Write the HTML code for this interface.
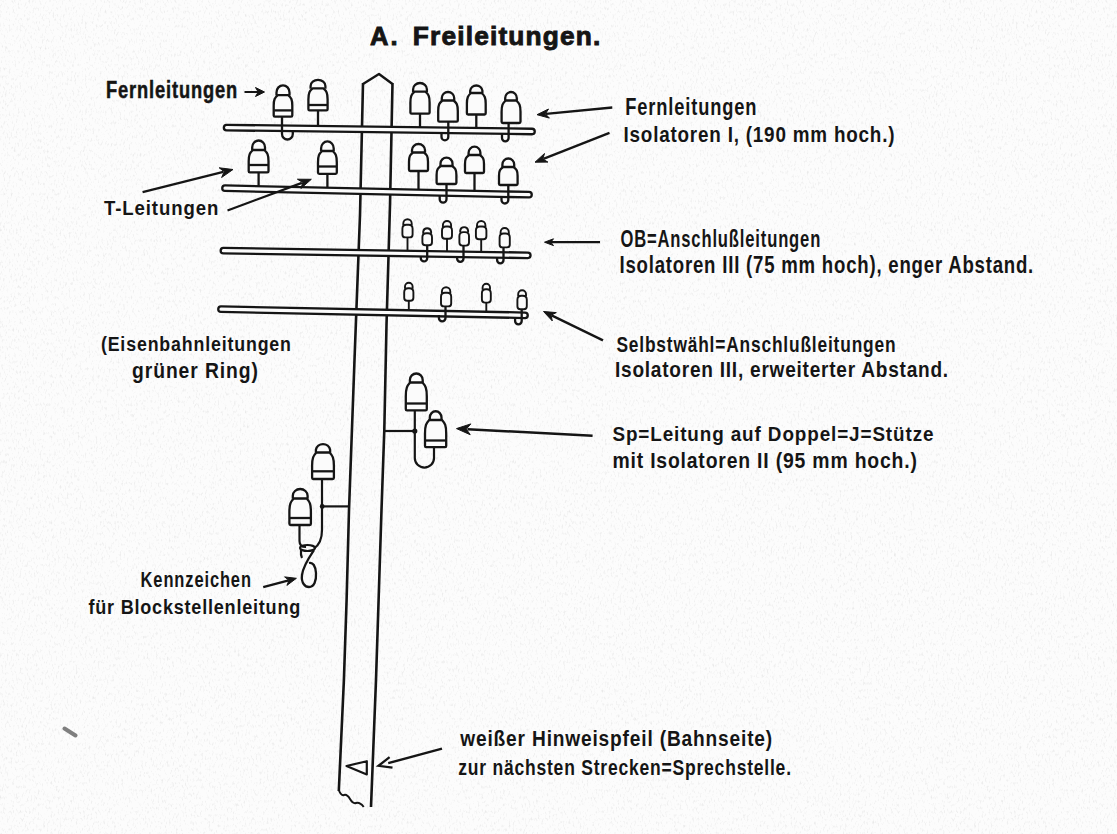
<!DOCTYPE html>
<html><head><meta charset="utf-8"><style>
html,body{margin:0;padding:0;background:#fcfcfc;}
body{width:1117px;height:834px;overflow:hidden;}
svg{display:block;}
text{font-family:"Liberation Sans", sans-serif;fill:#151515;stroke:#151515;}
</style></head><body>
<svg width="1117" height="834" viewBox="0 0 1117 834">
<defs><filter id="grain" x="0" y="0" width="100%" height="100%"><feTurbulence type="fractalNoise" baseFrequency="0.55 0.28" numOctaves="2" seed="7" result="t"/><feColorMatrix in="t" type="matrix" values="0 0 0 0 0.55  0 0 0 0 0.55  0 0 0 0 0.55  3.0 0 0 0 -1.62"/></filter></defs>
<rect width="1117" height="834" fill="#fcfcfc"/>
<rect width="1117" height="834" filter="url(#grain)" opacity="0.3"/>
<polyline points="363,83 360,215 354.5,360 349,510 346.6,600 343.9,680 338.8,791" fill="none" stroke="#151515" stroke-width="2.6"/>
<polyline points="392.5,83 390,205 386.5,325 384.3,430 381.5,510 378.6,600 376,680 371,807" fill="none" stroke="#151515" stroke-width="2.6"/>
<path d="M363 84 L379 74 L392.5 84" fill="none" stroke="#151515" stroke-width="2.4" stroke-linejoin="round"/>
<path d="M338.8 790 Q341 796 344 795 Q347 794 350 799 Q353 804 356 803 Q360 802 363.7 807" fill="none" stroke="#151515" stroke-width="2"/>
<path d="M346.5 766 L366.8 761.2 L366.8 774.5 Z" fill="none" stroke="#151515" stroke-width="2.2" stroke-linejoin="round"/>
<line x1="226.6" y1="127.6" x2="532" y2="131.5" stroke="#151515" stroke-width="7.8" stroke-linecap="round"/>
<line x1="226.6" y1="127.6" x2="532" y2="131.5" stroke="#fbfbfb" stroke-width="3.2" stroke-linecap="round"/>
<line x1="225" y1="188.2" x2="529" y2="194.7" stroke="#151515" stroke-width="7.8" stroke-linecap="round"/>
<line x1="225" y1="188.2" x2="529" y2="194.7" stroke="#fbfbfb" stroke-width="3.2" stroke-linecap="round"/>
<line x1="223.4" y1="250.7" x2="527.8" y2="255.3" stroke="#151515" stroke-width="7.8" stroke-linecap="round"/>
<line x1="223.4" y1="250.7" x2="527.8" y2="255.3" stroke="#fbfbfb" stroke-width="3.2" stroke-linecap="round"/>
<line x1="221" y1="309.2" x2="525" y2="315.3" stroke="#151515" stroke-width="7.8" stroke-linecap="round"/>
<line x1="221" y1="309.2" x2="525" y2="315.3" stroke="#fbfbfb" stroke-width="3.2" stroke-linecap="round"/>
<path d="M276.5 95.4 L276.5 92.4 A6.5 7.1 0 0 1 289.5 92.4 L289.5 95.4" fill="#fbfbfb" stroke="#151515" stroke-width="2.3"/>
<path d="M273.7 115.4 L273.7 105.8 C273.7 99.4 274.8 97.7 277.8 95.1 L288.2 95.1 C291.2 97.7 292.3 99.4 292.3 105.8 L292.3 115.4 Q292.3 116.6 291.1 116.6 L274.9 116.6 Q273.7 116.6 273.7 115.4 Z" fill="#fbfbfb" stroke="#151515" stroke-width="2.3" stroke-linejoin="round"/>
<line x1="274.2" y1="110.4" x2="291.8" y2="110.4" stroke="#151515" stroke-width="2.3"/>
<path d="M282.0 116.6 L282.0 134.1 A5.4 5.4 0 0 0 292.8 134.1 L292.8 131.5" fill="none" stroke="#151515" stroke-width="2.3"/>
<path d="M310.6 88.7 L310.6 86.0 A7.4 6.1 0 0 1 325.4 86.0 L325.4 88.7" fill="#fbfbfb" stroke="#151515" stroke-width="2.3"/>
<path d="M308.4 109.2 L308.4 99.4 C308.4 92.8 309.6 91.0 312.6 88.4 L323.4 88.4 C326.4 91.0 327.6 92.8 327.6 99.4 L327.6 109.2 Q327.6 110.4 326.4 110.4 L309.6 110.4 Q308.4 110.4 308.4 109.2 Z" fill="#fbfbfb" stroke="#151515" stroke-width="2.3" stroke-linejoin="round"/>
<line x1="308.9" y1="105.0" x2="327.1" y2="105.0" stroke="#151515" stroke-width="2.3"/>
<line x1="318.0" y1="110.4" x2="318.0" y2="125.0" stroke="#151515" stroke-width="2.3"/>
<path d="M413.1 91.9 L413.1 89.2 A6.9 6.2 0 0 1 426.9 89.2 L426.9 91.9" fill="#fbfbfb" stroke="#151515" stroke-width="2.3"/>
<path d="M410.4 112.4 L410.4 102.6 C410.4 96.0 411.6 94.2 414.6 91.6 L425.4 91.6 C428.4 94.2 429.6 96.0 429.6 102.6 L429.6 112.4 Q429.6 113.6 428.4 113.6 L411.6 113.6 Q410.4 113.6 410.4 112.4 Z" fill="#fbfbfb" stroke="#151515" stroke-width="2.3" stroke-linejoin="round"/>
<line x1="420.0" y1="113.6" x2="420.0" y2="127.0" stroke="#151515" stroke-width="2.3"/>
<path d="M441.8 100.8 L441.8 98.1 A6.2 6.1 0 0 1 454.2 98.1 L454.2 100.8" fill="#fbfbfb" stroke="#151515" stroke-width="2.3"/>
<path d="M438.2 120.4 L438.2 111.0 C438.2 104.7 439.4 103.0 442.4 100.5 L453.6 100.5 C456.6 103.0 457.8 104.7 457.8 111.0 L457.8 120.4 Q457.8 121.6 456.6 121.6 L439.4 121.6 Q438.2 121.6 438.2 120.4 Z" fill="#fbfbfb" stroke="#151515" stroke-width="2.3" stroke-linejoin="round"/>
<path d="M448.3 121.6 L448.3 136.9 A3.4 3.4 0 0 1 441.5 136.9 L441.5 133.0" fill="none" stroke="#151515" stroke-width="2.3"/>
<path d="M470.2 93.3 L470.2 90.6 A6.2 6.2 0 0 1 482.4 90.6 L482.4 93.3" fill="#fbfbfb" stroke="#151515" stroke-width="2.3"/>
<path d="M466.9 113.3 L466.9 103.8 C466.9 97.3 468.0 95.6 471.0 93.0 L481.6 93.0 C484.6 95.6 485.7 97.3 485.7 103.8 L485.7 113.3 Q485.7 114.5 484.5 114.5 L468.1 114.5 Q466.9 114.5 466.9 113.3 Z" fill="#fbfbfb" stroke="#151515" stroke-width="2.3" stroke-linejoin="round"/>
<line x1="476.3" y1="114.5" x2="476.3" y2="128.5" stroke="#151515" stroke-width="2.3"/>
<path d="M505.2 100.8 L505.2 98.1 A5.8 6.1 0 0 1 516.8 98.1 L516.8 100.8" fill="#fbfbfb" stroke="#151515" stroke-width="2.3"/>
<path d="M501.6 121.8 L501.6 111.8 C501.6 105.0 502.7 103.2 505.7 100.5 L516.3 100.5 C519.3 103.2 520.5 105.0 520.5 111.8 L520.5 121.8 Q520.5 123.0 519.2 123.0 L502.8 123.0 Q501.6 123.0 501.6 121.8 Z" fill="#fbfbfb" stroke="#151515" stroke-width="2.3" stroke-linejoin="round"/>
<path d="M508.6 123.0 L508.6 138.1 A3.3 3.3 0 0 1 502.0 138.1 L502.0 134.0" fill="none" stroke="#151515" stroke-width="2.3"/>
<path d="M252.2 150.3 L252.2 147.3 A6.4 6.8 0 0 1 265.0 147.3 L265.0 150.3" fill="#fbfbfb" stroke="#151515" stroke-width="2.3"/>
<path d="M248.7 171.2 L248.7 161.2 C248.7 154.5 249.9 152.7 252.9 150.0 L264.3 150.0 C267.3 152.7 268.5 154.5 268.5 161.2 L268.5 171.2 Q268.5 172.4 267.3 172.4 L249.9 172.4 Q248.7 172.4 248.7 171.2 Z" fill="#fbfbfb" stroke="#151515" stroke-width="2.3" stroke-linejoin="round"/>
<line x1="249.2" y1="165.0" x2="268.0" y2="165.0" stroke="#151515" stroke-width="2.3"/>
<line x1="258.6" y1="172.4" x2="258.6" y2="186.0" stroke="#151515" stroke-width="2.3"/>
<path d="M321.1 151.3 L321.1 148.3 A6.3 6.9 0 0 1 333.7 148.3 L333.7 151.3" fill="#fbfbfb" stroke="#151515" stroke-width="2.3"/>
<path d="M318.0 172.6 L318.0 162.4 C318.0 155.6 319.1 153.7 322.1 151.0 L332.7 151.0 C335.7 153.7 336.8 155.6 336.8 162.4 L336.8 172.6 Q336.8 173.8 335.6 173.8 L319.2 173.8 Q318.0 173.8 318.0 172.6 Z" fill="#fbfbfb" stroke="#151515" stroke-width="2.3" stroke-linejoin="round"/>
<line x1="318.5" y1="166.5" x2="336.3" y2="166.5" stroke="#151515" stroke-width="2.3"/>
<line x1="327.4" y1="173.8" x2="327.4" y2="187.5" stroke="#151515" stroke-width="2.3"/>
<path d="M412.0 152.8 L412.0 150.1 A6.5 6.1 0 0 1 425.0 150.1 L425.0 152.8" fill="#fbfbfb" stroke="#151515" stroke-width="2.3"/>
<path d="M409.0 169.8 L409.0 161.8 C409.0 156.2 410.1 154.7 413.1 152.5 L423.9 152.5 C426.9 154.7 428.0 156.2 428.0 161.8 L428.0 169.8 Q428.0 171.0 426.8 171.0 L410.2 171.0 Q409.0 171.0 409.0 169.8 Z" fill="#fbfbfb" stroke="#151515" stroke-width="2.3" stroke-linejoin="round"/>
<line x1="418.5" y1="171.0" x2="418.5" y2="190.0" stroke="#151515" stroke-width="2.3"/>
<path d="M440.5 166.3 L440.5 163.6 A6.0 6.0 0 0 1 452.5 163.6 L452.5 166.3" fill="#fbfbfb" stroke="#151515" stroke-width="2.3"/>
<path d="M436.6 182.8 L436.6 175.0 C436.6 169.6 437.8 168.2 440.8 166.0 L452.2 166.0 C455.2 168.2 456.4 169.6 456.4 175.0 L456.4 182.8 Q456.4 184.0 455.2 184.0 L437.8 184.0 Q436.6 184.0 436.6 182.8 Z" fill="#fbfbfb" stroke="#151515" stroke-width="2.3" stroke-linejoin="round"/>
<path d="M446.5 184.0 L446.5 199.2 A3.4 3.4 0 0 1 439.7 199.2 L439.7 195.0" fill="none" stroke="#151515" stroke-width="2.3"/>
<path d="M468.6 155.3 L468.6 152.7 A5.8 5.9 0 0 1 480.4 152.7 L480.4 155.3" fill="#fbfbfb" stroke="#151515" stroke-width="2.3"/>
<path d="M465.0 171.8 L465.0 164.0 C465.0 158.6 466.1 157.2 469.1 155.0 L479.9 155.0 C482.9 157.2 484.0 158.6 484.0 164.0 L484.0 171.8 Q484.0 173.0 482.8 173.0 L466.2 173.0 Q465.0 173.0 465.0 171.8 Z" fill="#fbfbfb" stroke="#151515" stroke-width="2.3" stroke-linejoin="round"/>
<line x1="474.5" y1="173.0" x2="474.5" y2="191.5" stroke="#151515" stroke-width="2.3"/>
<path d="M502.4 167.3 L502.4 164.6 A5.9 6.1 0 0 1 514.2 164.6 L514.2 167.3" fill="#fbfbfb" stroke="#151515" stroke-width="2.3"/>
<path d="M499.0 183.8 L499.0 176.0 C499.0 170.6 500.1 169.2 503.1 167.0 L513.5 167.0 C516.5 169.2 517.6 170.6 517.6 176.0 L517.6 183.8 Q517.6 185.0 516.4 185.0 L500.2 185.0 Q499.0 185.0 499.0 183.8 Z" fill="#fbfbfb" stroke="#151515" stroke-width="2.3" stroke-linejoin="round"/>
<path d="M508.3 185.0 L508.3 200.1 A3.4 3.4 0 0 1 501.5 200.1 L501.5 196.0" fill="none" stroke="#151515" stroke-width="2.3"/>
<path d="M403.3 225.2 L403.3 223.4 A4.2 4.2 0 0 1 411.7 223.4 L411.7 225.2" fill="#fbfbfb" stroke="#151515" stroke-width="1.9"/>
<path d="M402.4 228.7 Q402.4 224.7 406.4 224.7 L408.6 224.7 Q412.6 224.7 412.6 228.7 L412.6 234.4 Q412.6 237.4 409.6 237.4 L405.4 237.4 Q402.4 237.4 402.4 234.4 Z" fill="#fbfbfb" stroke="#151515" stroke-width="1.9"/>
<line x1="407.5" y1="237.4" x2="407.5" y2="250.5" stroke="#151515" stroke-width="1.9"/>
<path d="M423.2 233.7 L423.2 231.6 A4.0 4.0 0 0 1 431.1 231.6 L431.1 233.7" fill="#fbfbfb" stroke="#151515" stroke-width="1.9"/>
<path d="M422.4 237.2 Q422.4 233.2 426.4 233.2 L428.0 233.2 Q432.0 233.2 432.0 237.2 L432.0 242.3 Q432.0 245.3 429.0 245.3 L425.4 245.3 Q422.4 245.3 422.4 242.3 Z" fill="#fbfbfb" stroke="#151515" stroke-width="1.9"/>
<path d="M427.2 245.3 L427.2 258.2 A3.2 3.2 0 0 1 420.8 258.2 L420.8 256.0" fill="none" stroke="#151515" stroke-width="2.3"/>
<path d="M442.9 227.0 L442.9 225.1 A4.1 4.1 0 0 1 451.1 225.1 L451.1 227.0" fill="#fbfbfb" stroke="#151515" stroke-width="1.9"/>
<path d="M442.0 230.5 Q442.0 226.5 446.0 226.5 L448.0 226.5 Q452.0 226.5 452.0 230.5 L452.0 235.8 Q452.0 238.8 449.0 238.8 L445.0 238.8 Q442.0 238.8 442.0 235.8 Z" fill="#fbfbfb" stroke="#151515" stroke-width="1.9"/>
<line x1="447.0" y1="238.8" x2="447.0" y2="251.5" stroke="#151515" stroke-width="1.9"/>
<path d="M460.2 232.6 L460.2 230.5 A4.0 4.0 0 0 1 468.1 230.5 L468.1 232.6" fill="#fbfbfb" stroke="#151515" stroke-width="1.9"/>
<path d="M459.4 236.1 Q459.4 232.1 463.4 232.1 L465.0 232.1 Q469.0 232.1 469.0 236.1 L469.0 242.6 Q469.0 245.6 466.0 245.6 L462.4 245.6 Q459.4 245.6 459.4 242.6 Z" fill="#fbfbfb" stroke="#151515" stroke-width="1.9"/>
<path d="M463.5 245.6 L463.5 258.6 A3.2 3.2 0 0 1 457.1 258.6 L457.1 256.5" fill="none" stroke="#151515" stroke-width="2.3"/>
<path d="M477.0 227.0 L477.0 225.2 A4.2 4.2 0 0 1 485.4 225.2 L485.4 227.0" fill="#fbfbfb" stroke="#151515" stroke-width="1.9"/>
<path d="M475.9 230.5 Q475.9 226.5 479.9 226.5 L482.4 226.5 Q486.4 226.5 486.4 230.5 L486.4 236.2 Q486.4 239.2 483.4 239.2 L478.9 239.2 Q475.9 239.2 475.9 236.2 Z" fill="#fbfbfb" stroke="#151515" stroke-width="1.9"/>
<line x1="481.2" y1="239.2" x2="481.2" y2="252.0" stroke="#151515" stroke-width="1.9"/>
<path d="M500.6 234.0 L500.6 232.1 A4.1 4.1 0 0 1 508.8 232.1 L508.8 234.0" fill="#fbfbfb" stroke="#151515" stroke-width="1.9"/>
<path d="M499.6 237.5 Q499.6 233.5 503.6 233.5 L505.8 233.5 Q509.8 233.5 509.8 237.5 L509.8 244.4 Q509.8 247.4 506.8 247.4 L502.6 247.4 Q499.6 247.4 499.6 244.4 Z" fill="#fbfbfb" stroke="#151515" stroke-width="1.9"/>
<path d="M503.5 247.4 L503.5 260.1 A3.2 3.2 0 0 1 497.1 260.1 L497.1 257.5" fill="none" stroke="#151515" stroke-width="2.3"/>
<path d="M405.0 288.7 L405.0 286.5 A3.8 3.8 0 0 1 412.6 286.5 L412.6 288.7" fill="#fbfbfb" stroke="#151515" stroke-width="1.9"/>
<path d="M404.2 292.2 Q404.2 288.2 408.2 288.2 L409.4 288.2 Q413.4 288.2 413.4 292.2 L413.4 297.7 Q413.4 300.7 410.4 300.7 L407.2 300.7 Q404.2 300.7 404.2 297.7 Z" fill="#fbfbfb" stroke="#151515" stroke-width="1.9"/>
<line x1="408.8" y1="300.7" x2="408.8" y2="311.0" stroke="#151515" stroke-width="1.9"/>
<path d="M441.9 293.3 L441.9 291.5 A4.2 4.2 0 0 1 450.3 291.5 L450.3 293.3" fill="#fbfbfb" stroke="#151515" stroke-width="1.9"/>
<path d="M441.0 296.8 Q441.0 292.8 445.0 292.8 L447.2 292.8 Q451.2 292.8 451.2 296.8 L451.2 303.4 Q451.2 306.4 448.2 306.4 L444.0 306.4 Q441.0 306.4 441.0 303.4 Z" fill="#fbfbfb" stroke="#151515" stroke-width="1.9"/>
<path d="M445.5 306.4 L445.5 318.0 A3.3 3.3 0 0 1 438.9 318.0 L438.9 315.0" fill="none" stroke="#151515" stroke-width="2.3"/>
<path d="M482.6 289.8 L482.6 287.5 A3.7 3.7 0 0 1 490.0 287.5 L490.0 289.8" fill="#fbfbfb" stroke="#151515" stroke-width="1.9"/>
<path d="M481.9 293.3 Q481.9 289.3 485.9 289.3 L486.8 289.3 Q490.8 289.3 490.8 293.3 L490.8 299.6 Q490.8 302.6 487.8 302.6 L484.9 302.6 Q481.9 302.6 481.9 299.6 Z" fill="#fbfbfb" stroke="#151515" stroke-width="1.9"/>
<line x1="486.3" y1="302.6" x2="486.3" y2="313.0" stroke="#151515" stroke-width="1.9"/>
<path d="M518.2 296.2 L518.2 294.1 A3.9 3.9 0 0 1 526.0 294.1 L526.0 296.2" fill="#fbfbfb" stroke="#151515" stroke-width="1.9"/>
<path d="M517.4 299.7 Q517.4 295.7 521.4 295.7 L522.8 295.7 Q526.8 295.7 526.8 299.7 L526.8 306.3 Q526.8 309.3 523.8 309.3 L520.4 309.3 Q517.4 309.3 517.4 306.3 Z" fill="#fbfbfb" stroke="#151515" stroke-width="1.9"/>
<path d="M521.7 309.3 L521.7 321.1 A3.3 3.3 0 0 1 515.1 321.1 L515.1 318.0" fill="none" stroke="#151515" stroke-width="2.3"/>
<line x1="385" y1="431" x2="414.8" y2="431" stroke="#151515" stroke-width="2.2"/>
<path d="M414.8 410.4 L414.8 458 A9.6 9.6 0 0 0 434 458 L434 447.2" fill="none" stroke="#151515" stroke-width="2.2"/>
<circle cx="414.8" cy="431" r="2.6" fill="#151515"/>
<path d="M409.9 382.8 L409.9 380.0 A6.4 6.5 0 0 1 422.7 380.0 L422.7 382.8" fill="#fbfbfb" stroke="#151515" stroke-width="2.3"/>
<path d="M405.8 409.2 L405.8 396.4 C405.8 388.1 407.1 385.8 410.1 382.5 L422.5 382.5 C425.5 385.8 426.8 388.1 426.8 396.4 L426.8 409.2 Q426.8 410.4 425.6 410.4 L407.0 410.4 Q405.8 410.4 405.8 409.2 Z" fill="#fbfbfb" stroke="#151515" stroke-width="2.3" stroke-linejoin="round"/>
<line x1="406.3" y1="403.5" x2="426.3" y2="403.5" stroke="#151515" stroke-width="2.3"/>
<path d="M429.8 420.3 L429.8 417.6 A5.8 6.3 0 0 1 441.5 417.6 L441.5 420.3" fill="#fbfbfb" stroke="#151515" stroke-width="2.3"/>
<path d="M425.0 446.0 L425.0 433.6 C425.0 425.4 426.2 423.3 429.2 420.0 L442.0 420.0 C445.0 423.3 446.2 425.4 446.2 433.6 L446.2 446.0 Q446.2 447.2 445.1 447.2 L426.2 447.2 Q425.0 447.2 425.0 446.0 Z" fill="#fbfbfb" stroke="#151515" stroke-width="2.3" stroke-linejoin="round"/>
<line x1="425.5" y1="440.5" x2="445.8" y2="440.5" stroke="#151515" stroke-width="2.3"/>
<line x1="322.2" y1="506.4" x2="348.5" y2="506.4" stroke="#151515" stroke-width="2.2"/>
<circle cx="322.2" cy="506.4" r="2.4" fill="#151515"/>
<path d="M322 479 L322 530 C322 540 319 545 314 548.5" fill="none" stroke="#151515" stroke-width="2.2"/>
<path d="M299.5 525 L299.5 541 C299.5 545 302 547 306 547" fill="none" stroke="#151515" stroke-width="2.2"/>
<ellipse cx="307.5" cy="548" rx="7.5" ry="3" fill="none" stroke="#151515" stroke-width="2.2"/>
<path d="M301 550 Q300.5 555 302 558" fill="none" stroke="#151515" stroke-width="2.2"/>
<path d="M314 550 C310 556 303 566 302 575 C301 583 305 587 309 587 C314 587 316.5 581 316 573 C315.5 566 313 562 309 563" fill="none" stroke="#151515" stroke-width="2.3"/>
<path d="M315.9 452.8 L315.9 449.8 A7.2 6.8 0 0 1 330.1 449.8 L330.1 452.8" fill="#fbfbfb" stroke="#151515" stroke-width="2.3"/>
<path d="M312.1 477.8 L312.1 465.8 C312.1 457.8 313.4 455.7 316.4 452.5 L329.6 452.5 C332.6 455.7 333.9 457.8 333.9 465.8 L333.9 477.8 Q333.9 479.0 332.7 479.0 L313.3 479.0 Q312.1 479.0 312.1 477.8 Z" fill="#fbfbfb" stroke="#151515" stroke-width="2.3" stroke-linejoin="round"/>
<line x1="312.6" y1="471.3" x2="333.4" y2="471.3" stroke="#151515" stroke-width="2.3"/>
<path d="M292.8 498.8 L292.8 495.8 A7.4 6.8 0 0 1 307.6 495.8 L307.6 498.8" fill="#fbfbfb" stroke="#151515" stroke-width="2.3"/>
<path d="M289.4 523.8 L289.4 511.8 C289.4 503.8 290.7 501.7 293.7 498.5 L306.7 498.5 C309.7 501.7 310.9 503.8 310.9 511.8 L310.9 523.8 Q310.9 525.0 309.8 525.0 L290.6 525.0 Q289.4 525.0 289.4 523.8 Z" fill="#fbfbfb" stroke="#151515" stroke-width="2.3" stroke-linejoin="round"/>
<line x1="289.9" y1="518.0" x2="310.4" y2="518.0" stroke="#151515" stroke-width="2.3"/>
<line x1="244.5" y1="92.0" x2="258.5" y2="92.0" stroke="#151515" stroke-width="2.0"/>
<path d="M264.5 92.0 L255.5 96.5 L258.2 92.0 L255.5 87.5 Z" fill="#151515" stroke="#151515" stroke-width="1" stroke-linejoin="round"/>
<line x1="142.6" y1="192.2" x2="223.3" y2="171.9" stroke="#151515" stroke-width="2.3"/>
<path d="M233.0 169.5 L221.6 177.5 L224.2 171.7 L219.2 167.8 Z" fill="#151515" stroke="#151515" stroke-width="1" stroke-linejoin="round"/>
<line x1="227.5" y1="210.5" x2="301.9" y2="182.8" stroke="#151515" stroke-width="2.3"/>
<path d="M311.3 179.3 L300.9 188.5 L302.8 182.5 L297.4 179.2 Z" fill="#151515" stroke="#151515" stroke-width="1" stroke-linejoin="round"/>
<line x1="612.3" y1="107.5" x2="546.0" y2="113.8" stroke="#151515" stroke-width="2.3"/>
<path d="M537.0 114.7 L548.5 109.0 L545.4 113.9 L549.4 118.1 Z" fill="#151515" stroke="#151515" stroke-width="1" stroke-linejoin="round"/>
<line x1="609.5" y1="132.9" x2="543.4" y2="158.9" stroke="#151515" stroke-width="2.3"/>
<path d="M535.0 162.2 L544.5 153.5 L542.8 159.1 L547.9 162.1 Z" fill="#151515" stroke="#151515" stroke-width="1" stroke-linejoin="round"/>
<line x1="600.0" y1="242.2" x2="550.5" y2="242.2" stroke="#151515" stroke-width="2.3"/>
<path d="M544.5 242.2 L553.5 238.8 L550.8 242.2 L553.5 245.6 Z" fill="#151515" stroke="#151515" stroke-width="1" stroke-linejoin="round"/>
<line x1="603.0" y1="340.4" x2="551.6" y2="315.4" stroke="#151515" stroke-width="2.3"/>
<path d="M543.5 311.5 L556.3 312.6 L551.1 315.2 L552.3 320.9 Z" fill="#151515" stroke="#151515" stroke-width="1" stroke-linejoin="round"/>
<line x1="592.6" y1="435.8" x2="467.5" y2="429.2" stroke="#151515" stroke-width="2.5"/>
<path d="M456.5 428.6 L470.8 423.9 L466.3 429.1 L470.2 434.7 Z" fill="#151515" stroke="#151515" stroke-width="1" stroke-linejoin="round"/>
<line x1="263.2" y1="587.2" x2="288.7" y2="580.4" stroke="#151515" stroke-width="2.3"/>
<path d="M296.4 578.3 L286.9 585.4 L289.0 580.3 L284.6 576.9 Z" fill="#151515" stroke="#151515" stroke-width="1" stroke-linejoin="round"/>
<line x1="442.0" y1="748.7" x2="388.2" y2="763.2" stroke="#151515" stroke-width="2.3"/>
<path d="M389.6 757.1 L378.5 765.8 L392.5 767.7" fill="none" stroke="#151515" stroke-width="2.3"/>
<path d="M64.5 728.5 L75.5 735.5" stroke="#6a6a6a" stroke-width="4" stroke-linecap="round" opacity="0.85"/>
<text x="0" y="0" transform="translate(369.9,45.1) scale(0.9837,1)" font-size="26" font-weight="bold" textLength="28.3" lengthAdjust="spacing" style="stroke-width:0.91px">A.</text>
<text x="0" y="0" transform="translate(412.8,45.1) scale(1.0120,1)" font-size="26" font-weight="bold" textLength="185.3" lengthAdjust="spacing" style="stroke-width:0.89px">Freileitungen.</text>
<text x="0" y="0" transform="translate(105.9,97.5) scale(0.7945,1)" font-size="23" font-weight="bold" textLength="165.3" lengthAdjust="spacing" style="stroke-width:0.50px">Fernleitungen</text>
<text x="0" y="0" transform="translate(103.9,215.0) scale(0.8846,1)" font-size="21" font-weight="bold" textLength="129.3" lengthAdjust="spacing" style="stroke-width:0.00px">T-Leitungen</text>
<text x="0" y="0" transform="translate(100.9,350.8) scale(0.8465,1)" font-size="21" font-weight="bold" textLength="224.5" lengthAdjust="spacing" style="stroke-width:0.00px">(Eisenbahnleitungen</text>
<text x="0" y="0" transform="translate(132.1,377.5) scale(0.8769,1)" font-size="22" font-weight="bold" textLength="143.5" lengthAdjust="spacing" style="stroke-width:0.00px">grüner Ring)</text>
<text x="0" y="0" transform="translate(140.6,586.6) scale(0.7660,1)" font-size="21.5" font-weight="bold" textLength="144.1" lengthAdjust="spacing" style="stroke-width:0.00px">Kennzeichen</text>
<text x="0" y="0" transform="translate(88.5,614.2) scale(0.8815,1)" font-size="20.5" font-weight="bold" textLength="240.2" lengthAdjust="spacing" style="stroke-width:0.00px">für Blockstellenleitung</text>
<text x="0" y="0" transform="translate(625.2,114.5) scale(0.7945,1)" font-size="23" font-weight="bold" textLength="165.3" lengthAdjust="spacing" style="stroke-width:0.00px">Fernleitungen</text>
<text x="0" y="0" transform="translate(623.5,141.7) scale(0.8769,1)" font-size="21.5" font-weight="bold" textLength="309.0" lengthAdjust="spacing" style="stroke-width:0.00px">Isolatoren I, (190 mm hoch.)</text>
<text x="0" y="0" transform="translate(620.4,246.5) scale(0.7214,1)" font-size="23" font-weight="bold" textLength="277.1" lengthAdjust="spacing" style="stroke-width:0.00px">OB=Anschlußleitungen</text>
<text x="0" y="0" transform="translate(619.5,273.3) scale(0.8088,1)" font-size="23" font-weight="bold" textLength="511.6" lengthAdjust="spacing" style="stroke-width:0.00px">Isolatoren III (75 mm hoch), enger Abstand.</text>
<text x="0" y="0" transform="translate(616.4,351.6) scale(0.7883,1)" font-size="22" font-weight="bold" textLength="354.1" lengthAdjust="spacing" style="stroke-width:0.00px">Selbstwähl=Anschlußleitungen</text>
<text x="0" y="0" transform="translate(615.0,377.2) scale(0.8664,1)" font-size="22" font-weight="bold" textLength="384.5" lengthAdjust="spacing" style="stroke-width:0.00px">Isolatoren III, erweiterter Abstand.</text>
<text x="0" y="0" transform="translate(612.4,440.6) scale(0.8994,1)" font-size="21" font-weight="bold" textLength="357.0" lengthAdjust="spacing" style="stroke-width:0.00px">Sp=Leitung auf Doppel=J=Stütze</text>
<text x="0" y="0" transform="translate(612.4,468.2) scale(0.8815,1)" font-size="22" font-weight="bold" textLength="345.4" lengthAdjust="spacing" style="stroke-width:0.00px">mit Isolatoren II (95 mm hoch.)</text>
<text x="0" y="0" transform="translate(460.3,746.3) scale(0.8896,1)" font-size="21.5" font-weight="bold" textLength="350.6" lengthAdjust="spacing" style="stroke-width:0.00px">weißer Hinweispfeil (Bahnseite)</text>
<text x="0" y="0" transform="translate(458.2,775.2) scale(0.7962,1)" font-size="22" font-weight="bold" textLength="418.0" lengthAdjust="spacing" style="stroke-width:0.00px">zur nächsten Strecken=Sprechstelle.</text>
</svg>
</body></html>
